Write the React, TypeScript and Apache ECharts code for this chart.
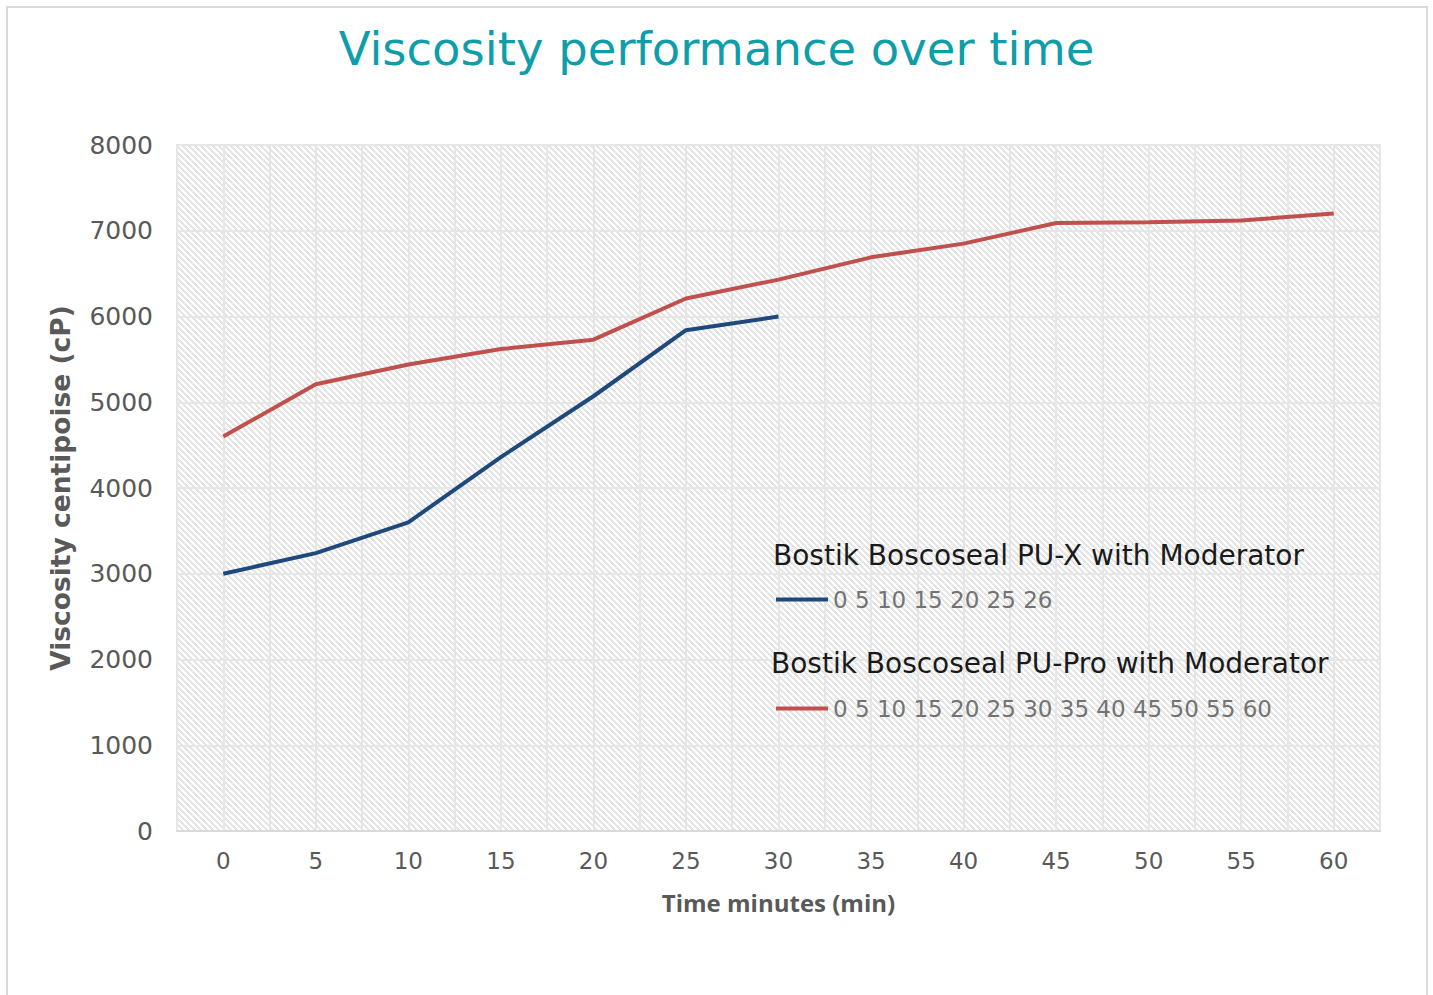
import React, { useEffect, useRef } from "react";
import * as echarts from "echarts";

const times = [0, 5, 10, 15, 20, 25, 30, 35, 40, 45, 50, 55, 60];
const puxTimes = [0, 5, 10, 15, 20, 25, 30];
const puxValues = [3000, 3240, 3600, 4360, 5070, 5840, 6000];
const puProValues = [4600, 5210, 5440, 5620, 5730, 6210, 6430, 6690, 6850, 7090, 7100, 7120, 7200];
const seriesNames = ["Bostik Boscoseal PU-X with Moderator", "Bostik Boscoseal PU-Pro with Moderator"];
const legendLabels = ["0 5 10 15 20 25 26", "0 5 10 15 20 25 30 35 40 45 50 55 60"];
const seriesColors = ["#1f497d", "#c0504d"];
const yMin = 0;
const yMax = 8000;
const yInterval = 1000;

function makeHatch(): HTMLCanvasElement {
  const c = document.createElement("canvas");
  const n = 6;
  c.width = n;
  c.height = n;
  const ctx = c.getContext("2d")!;
  ctx.fillStyle = "#ffffff";
  ctx.fillRect(0, 0, n, n);
  ctx.fillStyle = "#e5e5e5";
  for (let y = 0; y < n; y++) {
    for (let x = 0; x < n; x++) {
      const d = (((x - y) % n) + n) % n;
      if (d < 3) ctx.fillRect(x, y, 1, 1);
    }
  }
  return c;
}

export default function App() {
  const ref = useRef<HTMLDivElement>(null);
  useEffect(() => {
    if (!ref.current) return;
    const chart = echarts.init(ref.current, null, { renderer: "svg" });
    const hatch = makeHatch();
    const axisFont = "DejaVu Sans";
    const option: any = {
      animation: false,
      backgroundColor: "#ffffff",
      title: [
        {
          text: "Viscosity performance over time",
          left: "center",
          top: 25,
          padding: 0,
          textStyle: { fontFamily: "DejaVu Sans", fontSize: 46.5, fontWeight: "normal", color: "#0e9eaa" },
        },
        {
          text: seriesNames[0],
          left: 773,
          top: 541,
          padding: 0,
          textStyle: { fontFamily: "DejaVu Sans", fontSize: 28, fontWeight: "normal", color: "#1a1a1a" },
        },
        {
          text: seriesNames[1],
          left: 771,
          top: 649,
          padding: 0,
          textStyle: { fontFamily: "DejaVu Sans", fontSize: 28, fontWeight: "normal", color: "#1a1a1a" },
        },
      ],
      legend: [0, 1].map((i) => ({
        data: [seriesNames[i]],
        left: 776,
        top: i === 0 ? 588 : 697,
        padding: 0,
        icon: "rect",
        itemWidth: 52,
        itemHeight: 4,
        formatter: () => legendLabels[i],
        textStyle: { fontFamily: "DejaVu Sans", fontSize: 23, color: "#737373", padding: [0, 0, 0, 0] },
      })),
      grid: {
        show: true,
        left: 177,
        right: 53,
        top: 145,
        bottom: 164,
        backgroundColor: { image: hatch, repeat: "repeat" },
        borderColor: "#e0e0e0",
        borderWidth: 2,
      },
      xAxis: {
        type: "value",
        min: -2.5,
        max: 62.5,
        interval: 2.5,
        name: "Time minutes (min)",
        nameLocation: "middle",
        nameGap: 59,
        nameTextStyle: { fontFamily: "Open Sans", fontSize: 24, fontWeight: "bold", color: "#595959" },
        axisLine: { show: true, lineStyle: { color: "#d9d9d9", width: 2 } },
        axisTick: { show: false },
        axisLabel: {
          margin: 18,
          fontFamily: axisFont,
          fontSize: 23,
          color: "#595959",
          formatter: (v: number) => (v >= 0 && v % 5 === 0 ? String(v) : ""),
        },
        splitLine: { show: true, lineStyle: { color: "#e6e6e6", width: 2 } },
      },
      yAxis: {
        type: "value",
        min: yMin,
        max: yMax,
        interval: yInterval,
        name: "Viscosity centipoise (cP)",
        nameLocation: "middle",
        nameGap: 103,
        nameTextStyle: { fontFamily: "DejaVu Sans", fontSize: 26.5, fontWeight: "bold", color: "#595959" },
        axisLine: { show: false },
        axisTick: { show: false },
        axisLabel: {
          margin: 24,
          fontFamily: axisFont,
          fontSize: 25,
          color: "#595959",
          formatter: (v: number) => String(v),
        },
        splitLine: { show: true, lineStyle: { color: "#e6e6e6", width: 2 } },
      },
      series: [
        {
          name: seriesNames[0],
          type: "line",
          symbol: "none",
          data: puxTimes.map((t, i) => [t, puxValues[i]]),
          lineStyle: { color: seriesColors[0], width: 4 },
          itemStyle: { color: seriesColors[0] },
        },
        {
          name: seriesNames[1],
          type: "line",
          symbol: "none",
          data: times.map((t, i) => [t, puProValues[i]]),
          lineStyle: { color: seriesColors[1], width: 4 },
          itemStyle: { color: seriesColors[1] },
        },
      ],
    };
    chart.setOption(option);
    return () => chart.dispose();
  }, []);
  return (
    <div style={{ position: "fixed", left: 0, top: 0, width: 1433, height: 995, background: "#fff" }}>
      <div ref={ref} style={{ position: "absolute", left: 0, top: 0, width: 1433, height: 995 }} />
      <div
        style={{
          position: "absolute",
          left: 6,
          top: 6,
          width: 1418,
          height: 1010,
          border: "2px solid #d9d9d9",
          pointerEvents: "none",
        }}
      />
    </div>
  );
}
